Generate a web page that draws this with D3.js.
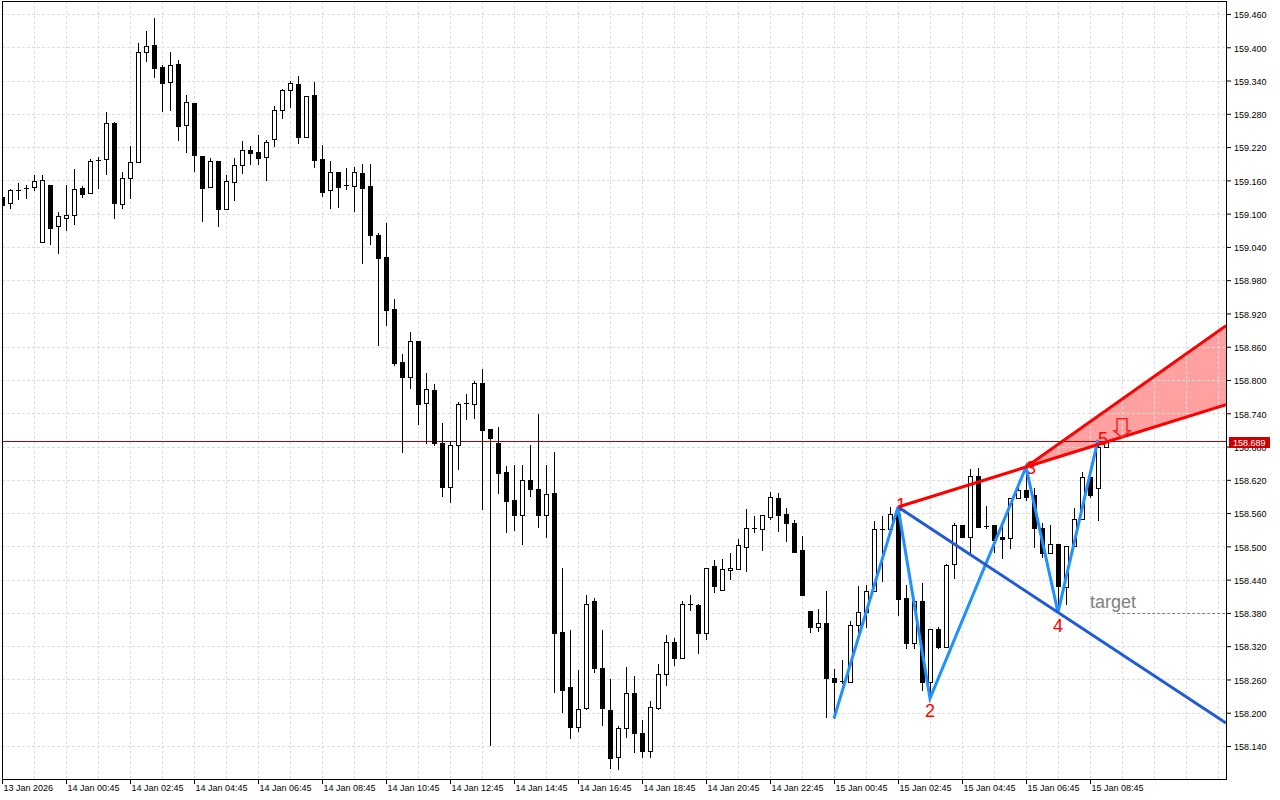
<!DOCTYPE html>
<html><head><meta charset="utf-8">
<script src="https://cdn.jsdelivr.net/npm/d3@7"></script>
<style>body{margin:0;background:#fff;} svg{display:block;}</style>
</head><body><svg id="c" width="1280" height="800"></svg>
<script>
// ---- data (USDJPY-like M15 bars) ----
const open = [
159.130,159.120,159.141,159.145,159.148,159.048,159.152,159.077,159.093,159.097,
159.147,159.138,159.195,159.199,159.264,159.118,159.164,159.193,159.391,159.404,
159.364,159.337,159.370,159.260,159.299,159.204,159.148,159.195,159.109,159.157,
159.188,159.215,159.211,159.202,159.235,159.287,159.323,159.334,159.238,159.314,
159.199,159.143,159.175,159.152,159.150,159.173,159.150,159.061,159.022,158.928,
158.832,158.805,158.870,158.759,158.782,158.687,158.607,158.683,158.757,158.757,
158.795,158.711,158.687,158.634,158.584,158.557,158.620,158.604,158.557,158.596,
158.345,158.246,158.174,158.208,158.401,158.280,158.205,158.120,158.172,158.235,
158.164,158.131,158.208,158.270,158.327,158.299,158.394,158.394,158.344,158.464,
158.421,158.457,158.459,158.499,158.533,158.531,158.553,158.587,158.558,158.542,
158.493,158.383,158.354,158.361,158.262,158.255,158.255,158.358,158.381,158.419,
158.531,158.531,158.558,158.407,158.326,158.401,158.255,158.351,158.318,158.468,
158.539,158.517,158.627,158.537,158.539,158.517,158.515,158.587,158.602,158.593,
158.533,158.488,158.504,158.427,158.501,158.549,158.625,158.605,158.679];
const high = [
159.132,159.145,159.156,159.152,159.170,159.170,159.152,159.103,159.152,159.181,
159.150,159.199,159.202,159.283,159.265,159.175,159.222,159.408,159.429,159.453,
159.368,159.391,159.377,159.314,159.299,159.204,159.200,159.195,159.170,159.200,
159.231,159.222,159.242,159.233,159.294,159.325,159.339,159.348,159.312,159.337,
159.224,159.195,159.175,159.182,159.184,159.190,159.190,159.065,159.084,158.946,
158.847,158.886,158.870,158.813,158.793,158.723,158.690,158.761,158.775,158.798,
158.820,158.711,158.715,158.645,158.647,158.647,158.683,158.739,158.647,158.670,
158.461,158.349,158.277,158.412,158.407,158.349,158.261,158.176,158.282,158.266,
158.187,158.221,158.288,158.340,158.335,158.401,158.412,158.396,158.461,158.475,
158.477,158.488,158.513,158.567,158.555,158.557,158.598,158.596,158.569,158.548,
158.519,158.383,158.387,158.419,158.279,158.295,158.365,158.428,158.430,158.546,
158.555,158.571,158.571,158.430,158.401,158.434,158.351,158.354,158.468,158.542,
158.539,158.639,158.641,158.573,158.539,158.544,158.587,158.614,158.643,158.605,
158.542,158.539,158.504,158.501,158.569,158.634,158.630,158.692,158.690];
const low = [
159.114,159.111,159.127,159.129,159.143,159.048,159.045,159.029,159.070,159.082,
159.130,159.138,159.147,159.172,159.093,159.111,159.129,159.193,159.375,159.346,
159.285,159.287,159.233,159.211,159.177,159.086,159.148,159.077,159.109,159.125,
159.173,159.190,159.190,159.161,159.222,159.272,159.292,159.228,159.238,159.184,
159.132,159.111,159.112,159.145,159.105,159.011,159.045,158.863,158.899,158.827,
158.670,158.786,158.721,158.687,158.683,158.591,158.580,158.640,158.730,158.731,
158.567,158.142,158.596,158.526,158.530,158.505,158.591,158.535,158.517,158.237,
158.201,158.155,158.167,158.206,158.273,158.178,158.100,158.099,158.156,158.129,
158.120,158.120,158.206,158.250,158.286,158.299,158.385,158.308,158.333,158.418,
158.421,158.441,158.459,158.455,158.526,158.493,158.549,158.528,158.510,158.490,
158.412,158.345,158.347,158.192,158.190,158.253,158.255,158.345,158.354,158.419,
158.437,158.531,158.376,158.317,158.317,158.241,158.226,158.317,158.318,158.443,
158.517,158.490,158.535,158.533,158.490,158.479,158.497,158.587,158.584,158.499,
158.481,158.488,158.381,158.396,158.501,158.549,158.589,158.548,158.679];
const close = [
159.116,159.143,159.143,159.147,159.159,159.161,159.075,159.095,159.097,159.145,
159.136,159.195,159.197,159.264,159.120,159.164,159.193,159.391,159.402,159.362,
159.336,159.368,159.258,159.301,159.206,159.147,159.195,159.109,159.159,159.188,
159.215,159.209,159.200,159.229,159.287,159.323,159.336,159.238,159.312,159.197,
159.139,159.175,159.148,159.150,159.175,159.147,159.061,159.020,158.926,158.831,
158.805,158.870,158.757,158.784,158.687,158.607,158.683,158.757,158.758,158.795,
158.710,158.695,158.632,158.582,158.557,158.620,158.604,158.557,158.595,158.344,
158.241,158.174,158.206,158.396,158.280,158.208,158.118,158.172,158.235,158.164,
158.131,158.210,158.270,158.327,158.299,158.396,158.396,158.344,158.461,158.428,
158.459,158.461,158.502,158.533,158.534,158.557,158.589,158.557,158.542,158.490,
158.412,158.354,158.361,158.262,158.255,158.257,158.358,158.381,158.419,158.531,
158.532,158.558,158.405,158.326,158.401,158.255,158.351,158.318,158.466,158.539,
158.517,158.627,158.535,158.535,158.512,158.513,158.587,158.602,158.589,158.533,
158.488,158.504,158.428,158.501,158.549,158.625,158.593,158.679,158.689];

const priceTicks = [159.460,159.400,159.340,159.280,159.220,159.160,159.100,159.040,158.980,158.920,
  158.860,158.800,158.740,158.680,158.620,158.560,158.500,158.440,158.380,158.320,158.260,158.200,158.140];
const timeLabels = ["13 Jan 2026","14 Jan 00:45","14 Jan 02:45","14 Jan 04:45","14 Jan 06:45","14 Jan 08:45",
  "14 Jan 10:45","14 Jan 12:45","14 Jan 14:45","14 Jan 16:45","14 Jan 18:45","14 Jan 20:45","14 Jan 22:45",
  "15 Jan 00:45","15 Jan 02:45","15 Jan 04:45","15 Jan 06:45","15 Jan 08:45"];
const barsPerLabel = 8;
const barsPerGrid = 4;
const lastBarSlot = 153;      // right edge of the chart in bar slots

// Wolfe wave points 0..5 (bar index, price)
const waveIdx   = [104, 112, 116, 128, 132, 137];
const wavePrice = [158.190, 158.571, 158.226, 158.643, 158.381, 158.692];
const waveNames = ["", "1", "2", "3", "4", "5"];
const upperConeEndPrice = 158.898;
const targetPrice = 158.380;
const targetFromIdx = 139.4;
const arrowIdx = 140, arrowTipPrice = 158.696;
const lastPrice = 158.689;

// ---- drawing ----
const FONT = "'Liberation Sans', Arial, sans-serif";
const svg = d3.select("#c");
const L = 2, R = 1226, T = 1, B = 779;
const x = d3.scaleLinear().domain([0, lastBarSlot]).range([L, R]);
const y = d3.scaleLinear().domain([158.140, 159.460]).range([746, 14]);

svg.append("rect").attr("width",1280).attr("height",800).attr("fill","#fff");
svg.append("defs").append("clipPath").attr("id","plot")
  .append("rect").attr("x",L+1).attr("y",T+1).attr("width",R-L-1).attr("height",B-T-1);
const plot = svg.append("g").attr("clip-path","url(#plot)");

// line helper: extend line through two points to slot lastBarSlot
function extend(i1,p1,i2,p2,iEnd){ return p1 + (p2-p1)*(iEnd-i1)/(i2-i1); }
const lowerEnd = extend(waveIdx[1],wavePrice[1],waveIdx[3],wavePrice[3],lastBarSlot);
const blueEnd  = extend(waveIdx[1],wavePrice[1],waveIdx[4],wavePrice[4],lastBarSlot);

// pink cone
plot.append("path")
  .attr("d", d3.line()([[x(waveIdx[3]),y(wavePrice[3])],[x(lastBarSlot),y(upperConeEndPrice)],[x(lastBarSlot),y(lowerEnd)]]) + "Z")
  .attr("fill","rgba(255,0,0,0.37)");

// grid
const grid = plot.append("g").attr("stroke","#dedede").attr("stroke-dasharray","3,2").attr("stroke-width",1);
priceTicks.forEach(p=>{
  const yy = Math.round(y(p))+0.5;
  grid.append("line").attr("x1",L).attr("x2",R).attr("y1",yy).attr("y2",yy);
});
for(let i=barsPerGrid;i<=lastBarSlot;i+=barsPerGrid){
  const xx = Math.round(x(i))+0.5;
  grid.append("line").attr("x1",xx).attr("x2",xx).attr("y1",T).attr("y2",B);
}

// current price line
plot.append("line").attr("x1",L).attr("x2",R)
  .attr("y1",Math.floor(y(lastPrice))+0.5).attr("y2",Math.floor(y(lastPrice))+0.5)
  .attr("stroke","#b80000").attr("stroke-width",1);

// candles
const cg = plot.append("g");
open.forEach((o,i)=>{
  const c = close[i], h = high[i], l = low[i];
  const cx = Math.round(x(i));
  cg.append("line").attr("x1",cx+0.5).attr("x2",cx+0.5)
    .attr("y1",Math.round(y(h))).attr("y2",Math.round(y(l))+1)
    .attr("stroke","#000").attr("stroke-width",1);
  const yt = Math.round(y(Math.max(o,c))), yb = Math.round(y(Math.min(o,c)));
  if (yb - yt < 2) {
    cg.append("line").attr("x1",cx-2).attr("x2",cx+3).attr("y1",yt+0.5).attr("y2",yt+0.5)
      .attr("stroke","#000").attr("stroke-width",1);
  } else {
    cg.append("rect").attr("x",cx-1.5).attr("y",yt+0.5).attr("width",4).attr("height",yb-yt)
      .attr("fill", c>=o ? "#fff" : "#000").attr("stroke","#000").attr("stroke-width",1);
  }
});

// wave labels (drawn beneath the lines)
const labOff = [[0,0],[3,4],[0,19],[5,7],[0,20],[5,5]];
waveNames.forEach((n,k)=>{
  if(!n) return;
  plot.append("text").attr("x",x(waveIdx[k])+labOff[k][0]).attr("y",y(wavePrice[k])+labOff[k][1])
    .attr("text-anchor","middle").attr("font-family",FONT).attr("font-size",18)
    .attr("fill","#ff0000").text(n);
});

// zigzag
plot.append("path")
  .attr("d", d3.line()(waveIdx.map((d,k)=>[x(d),y(wavePrice[k])])))
  .attr("fill","none").attr("stroke","#1e90ff").attr("stroke-width",3).attr("stroke-linejoin","miter");

// 1-4 line (dark blue)
plot.append("line").attr("x1",x(waveIdx[1])).attr("y1",y(wavePrice[1]))
  .attr("x2",x(lastBarSlot)).attr("y2",y(blueEnd))
  .attr("stroke","#1f5bd6").attr("stroke-width",3);

// red lines
plot.append("line").attr("x1",x(waveIdx[1])).attr("y1",y(wavePrice[1]))
  .attr("x2",x(lastBarSlot)).attr("y2",y(lowerEnd))
  .attr("stroke","#ff0000").attr("stroke-width",3);
plot.append("line").attr("x1",x(waveIdx[3])).attr("y1",y(wavePrice[3]))
  .attr("x2",x(lastBarSlot)).attr("y2",y(upperConeEndPrice))
  .attr("stroke","#ff0000").attr("stroke-width",3);

// target
plot.append("line").attr("x1",x(targetFromIdx)).attr("x2",R)
  .attr("y1",Math.round(y(targetPrice))+0.5).attr("y2",Math.round(y(targetPrice))+0.5)
  .attr("stroke","#808080").attr("stroke-dasharray","3,2").attr("stroke-width",1);
plot.append("text").attr("x",x(136)).attr("y",y(targetPrice)-5)
  .attr("font-family",FONT).attr("font-size",18).attr("fill","#808080").text("target");

// down arrow
{
  const ax = x(arrowIdx), ay = y(arrowTipPrice);
  const pts = [[-5,-19],[5,-19],[5,-7],[8,-7],[0,0],[-8,-7],[-5,-7]].map(([dx,dy])=>[ax+dx,ay+dy]);
  plot.append("path").attr("d", d3.line()(pts)+"Z").attr("fill","none")
    .attr("stroke","#ff2020").attr("stroke-width",1.5);
}

// frame
svg.append("rect").attr("x",L+0.5).attr("y",T+0.5).attr("width",R-L).attr("height",B-T)
  .attr("fill","none").attr("stroke","#000").attr("stroke-width",1);

// y axis
const yAxis = d3.axisRight(y).tickValues(priceTicks).tickFormat(d3.format(".3f")).tickSize(5).tickPadding(3);
const ya = svg.append("g").attr("transform",`translate(${R},0)`).call(yAxis);
ya.select(".domain").remove();
ya.selectAll("text").attr("font-family",FONT).attr("font-size",9).attr("fill","#000").attr("dy","0.42em");
ya.selectAll("line").attr("stroke","#000");

// x axis
const xTicks = timeLabels.map((d,k)=>k*barsPerLabel);
const xAxis = d3.axisBottom(x).tickValues(xTicks).tickFormat((d,k)=>timeLabels[k]).tickSize(5);
const xa = svg.append("g").attr("transform",`translate(0,${B})`).call(xAxis);
xa.select(".domain").remove();
xa.selectAll("text").attr("font-family",FONT).attr("font-size",9).attr("fill","#000")
  .attr("text-anchor","start").attr("x",1).attr("y",6).attr("dy","0.71em");
xa.selectAll("line").attr("stroke","#000");

// last price tag
const ly = y(lastPrice);
svg.append("rect").attr("x",R+3).attr("y",Math.round(ly)-5).attr("width",41).attr("height",11).attr("fill","#cc0000");
svg.append("text").attr("x",R+7).attr("y",Math.round(ly)+4).attr("font-family",FONT).attr("font-size",9)
  .attr("fill","#fff").text(lastPrice.toFixed(3));
</script></body></html>
